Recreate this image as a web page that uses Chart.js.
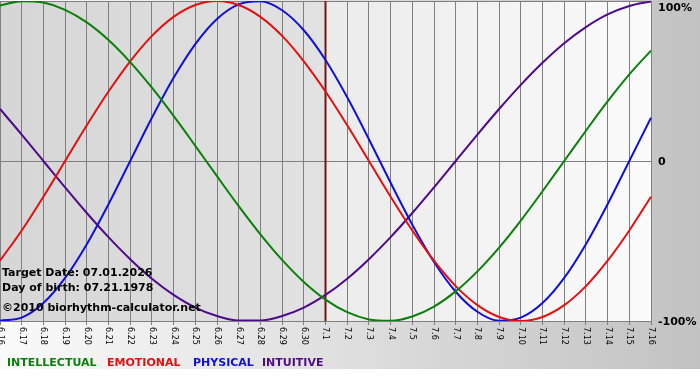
<!DOCTYPE html>
<html>
<head>
<meta charset="utf-8">
<title>Biorhythm</title>
<script src="https://cdn.jsdelivr.net/npm/chart.js@4.4.1/dist/chart.umd.min.js"></script>
<style>
  html, body { margin: 0; padding: 0; background: #fff; }
  #wrap { width: 700px; height: 380px; position: relative; }
</style>
</head>
<body>
<div id="wrap"><canvas id="bioChart"></canvas></div>
<script>
// days shown on the x axis
const days = ['6.16', '6.17', '6.18', '6.19', '6.20', '6.21', '6.22', '6.23', '6.24', '6.25',
  '6.26', '6.27', '6.28', '6.29', '6.30', '7.1', '7.2', '7.3', '7.4', '7.5', '7.6', '7.7',
  '7.8', '7.9', '7.10', '7.11', '7.12', '7.13', '7.14', '7.15', '7.16'];
const targetDay = '7.1';

// cycle values, -1..1
const intellectual = [0.972, 0.999, 0.990, 0.945, 0.866, 0.756, 0.618, 0.458, 0.282, 0.095,
  -0.095, -0.282, -0.458, -0.618, -0.756, -0.866, -0.945, -0.990, -0.999, -0.972, -0.910,
  -0.815, -0.690, -0.541, -0.372, -0.189, 0.000, 0.189, 0.372, 0.541, 0.690];
const emotional = [-0.623, -0.434, -0.223, 0.000, 0.223, 0.434, 0.623, 0.782, 0.901, 0.975,
  1.000, 0.975, 0.901, 0.782, 0.623, 0.434, 0.223, 0.000, -0.223, -0.434, -0.623, -0.782,
  -0.901, -0.975, -1.000, -0.975, -0.901, -0.782, -0.623, -0.434, -0.223];
const physical = [-0.998, -0.979, -0.888, -0.731, -0.520, -0.270, 0.000, 0.270, 0.520, 0.731,
  0.888, 0.979, 0.998, 0.942, 0.817, 0.631, 0.398, 0.136, -0.136, -0.398, -0.631, -0.817,
  -0.942, -0.998, -0.979, -0.888, -0.731, -0.520, -0.270, 0.000, 0.270];
const intuitive = [0.325, 0.165, 0.000, -0.165, -0.325, -0.476, -0.614, -0.736, -0.837, -0.916,
  -0.969, -0.997, -0.997, -0.969, -0.916, -0.837, -0.736, -0.614, -0.476, -0.325, -0.165,
  0.000, 0.165, 0.325, 0.476, 0.614, 0.736, 0.837, 0.916, 0.969, 0.997];

const yTicks = [-1, 0, 1];
const yTickLabels = ['-100%', '0', '100%'];
const seriesNames = ['INTELLECTUAL', 'EMOTIONAL', 'PHYSICAL', 'INTUITIVE'];
const infoLines = ['Target Date: 07.01.2026', 'Day of birth: 07.21.1978', '\u00a92010 biorhythm-calculator.net'];

const colors = ['#0a800a', '#e41010', '#1010dc', '#4e0a8a'];
const gridColor = '#7f7f7f';

Chart.defaults.font.family = '"DejaVu Sans", Verdana, sans-serif';

const backdrop = {
  id: 'backdrop',
  beforeDraw(chart) {
    const ctx = chart.ctx;
    const a = chart.chartArea;
    ctx.save();
    let g = ctx.createLinearGradient(0, 0, chart.width, 0);
    g.addColorStop(0, '#fafafa');
    g.addColorStop(1, '#c2c2c2');
    ctx.fillStyle = g;
    ctx.fillRect(0, 0, chart.width, 369);

    const xT = chart.scales.x.getPixelForValue(days.indexOf(targetDay));
    const f = (xT - a.left) / (a.right - a.left);
    let p = ctx.createLinearGradient(a.left, 0, a.right, 0);
    p.addColorStop(0, '#d6d6d6');
    p.addColorStop(f, '#e2e2e2');
    p.addColorStop(f, '#ebebeb');
    p.addColorStop(1, '#fbfbfb');
    ctx.fillStyle = p;
    ctx.fillRect(a.left, a.top, a.right - a.left, a.bottom - a.top);
    ctx.restore();
  },
  beforeDatasetsDraw(chart) {
    const ctx = chart.ctx;
    const a = chart.chartArea;
    const x = chart.scales.x.getPixelForValue(days.indexOf(targetDay));
    ctx.save();
    ctx.strokeStyle = '#7a1414';
    ctx.lineWidth = 2;
    ctx.beginPath();
    ctx.moveTo(x, a.top);
    ctx.lineTo(x, a.bottom);
    ctx.stroke();
    ctx.restore();
  },
  afterDatasetsDraw(chart) {
    const ctx = chart.ctx;
    const a = chart.chartArea;
    const xs = chart.scales.x;
    const ys = chart.scales.y;
    ctx.save();

    // info text
    ctx.fillStyle = '#000';
    ctx.font = 'bold 11px "DejaVu Sans"';
    ctx.textAlign = 'left';
    ctx.textBaseline = 'alphabetic';
    ctx.fillText(infoLines[0], 2, 276);
    ctx.fillText(infoLines[1], 2, 291);
    ctx.fillText(infoLines[2], 2, 311);

    // x labels, rotated to read downward
    ctx.font = '8px "DejaVu Sans"';
    ctx.textBaseline = 'middle';
    days.forEach((d, i) => {
      const x = xs.getPixelForValue(i);
      ctx.save();
      ctx.translate(x, a.bottom + 6);
      ctx.rotate(Math.PI / 2);
      ctx.fillText(d, 0, 0);
      ctx.restore();
    });

    // y labels on the right
    ctx.font = 'bold 11px "DejaVu Sans"';
    yTicks.forEach((v, i) => {
      const y = Math.max(ys.getPixelForValue(v), a.top + 6);
      ctx.fillText(yTickLabels[i], a.right + 7, y + 1);
    });

    // legend
    const legendX = [7, 107, 193, 262];
    ctx.textBaseline = 'alphabetic';
    seriesNames.forEach((n, i) => {
      ctx.fillStyle = colors[i];
      ctx.fillText(n, legendX[i], 366);
    });
    ctx.restore();
  }
};

const seriesData = [intellectual, emotional, physical, intuitive];

new Chart(document.getElementById('bioChart'), {
  type: 'line',
  data: {
    labels: days,
    datasets: seriesNames.map((n, i) => ({
      label: n,
      data: seriesData[i],
      borderColor: colors[i],
      borderWidth: 2,
      pointRadius: 0,
      cubicInterpolationMode: 'monotone',
      fill: false
    }))
  },
  options: {
    responsive: true,
    maintainAspectRatio: false,
    animation: false,
    layout: { padding: { top: 1, left: 0, right: 0, bottom: 0 } },
    plugins: {
      legend: { display: false },
      tooltip: { enabled: false }
    },
    scales: {
      x: {
        offset: false,
        grid: { color: gridColor, lineWidth: 1, tickLength: 4, offset: false },
        border: { display: false },
        ticks: { display: false, autoSkip: false },
        afterFit(scale) { scale.height = 59; }
      },
      y: {
        position: 'right',
        min: -1,
        max: 1,
        afterBuildTicks(scale) { scale.ticks = yTicks.map(v => ({ value: v })); },
        grid: { color: gridColor, lineWidth: 1, drawTicks: false },
        border: { display: false },
        ticks: { display: false },
        afterFit(scale) { scale.width = 49; }
      }
    }
  },
  plugins: [backdrop]
});
</script>
</body>
</html>
